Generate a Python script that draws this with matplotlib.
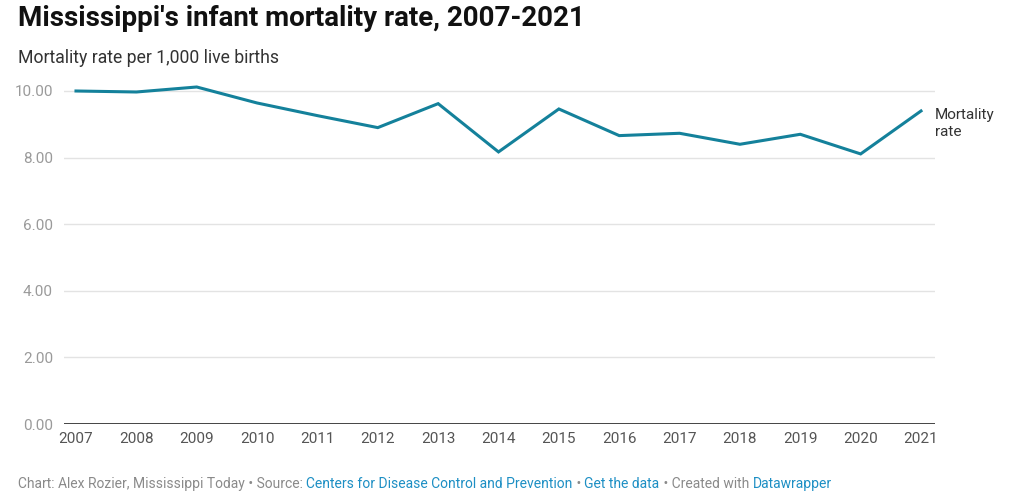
import matplotlib
matplotlib.use('Agg')
import matplotlib.pyplot as plt
import numpy as np

# ---------- data ----------
years = [2007, 2008, 2009, 2010, 2011, 2012, 2013, 2014,
         2015, 2016, 2017, 2018, 2019, 2020, 2021]
rate = [10.00, 9.97, 10.12, 9.64, 9.26, 8.90, 9.62, 8.17,
        9.46, 8.66, 8.73, 8.40, 8.70, 8.11, 9.40]
y_ticks = [0, 2, 4, 6, 8, 10]

title = "Mississippi's infant mortality rate, 2007-2021"
subtitle = "Mortality rate per 1,000 live births"
series_label = "Mortality\nrate"
footer = [("Chart: Alex Rozier, Mississippi Today \u2022 Source: ", "#8a8a8a"),
          ("Centers for Disease Control and Prevention", "#1d8fc4"),
          (" \u2022 ", "#8a8a8a"),
          ("Get the data", "#1d8fc4"),
          (" \u2022 Created with ", "#8a8a8a"),
          ("Datawrapper", "#1d8fc4")]

# ---------- style ----------
plt.rcParams['font.family'] = ['Roboto', 'DejaVu Sans']
line_col = '#14819b'
W, H = 1024, 500

fig = plt.figure(figsize=(W / 100, H / 100), dpi=100)
# axes box in pixels: left 64, right 935, bottom(0) 424, top 81
ax = fig.add_axes([64 / W, 1 - 424 / H, (935 - 64) / W, (424 - 81) / H])

step = (921 - 76) / 14
ax.set_xlim(2007 - 12 / step, 2021 + 14 / step)
ax.set_ylim(0, 10.3)

for t in y_ticks[1:]:
    ax.axhline(t, color='#e3e3e3', lw=1, zorder=1)
ax.axhline(0, color='#333333', lw=2, zorder=3)

ax.plot(years, rate, color=line_col, lw=2.2, zorder=4, solid_joinstyle='miter')

ax.set_yticks(y_ticks)
ax.set_yticklabels([f"{t:.2f}" for t in y_ticks])
ax.set_xticks(years)
ax.set_xticklabels([str(y) for y in years])
ax.tick_params(axis='y', length=0, pad=8, labelsize=11, labelcolor='#9a9a9a')
ax.tick_params(axis='x', length=0, pad=6, labelsize=11, labelcolor='#555555')
for s in ax.spines.values():
    s.set_visible(False)

ax.annotate(series_label, (years[-1], rate[-1]), xytext=(10, -9),
            textcoords='offset points', ha='left', va='center',
            fontsize=11, color='#333333', linespacing=1.25)

fig.text(18 / W, 1 - 18 / H, title, fontsize=20, fontweight='bold',
         color='#111111', va='center', ha='left')
fig.text(18 / W, 1 - 58 / H, subtitle, fontsize=12.7, color='#333333',
         va='center', ha='left')

# footer with mixed colours
fig.canvas.draw()
r = fig.canvas.get_renderer()
x = 18
for txt, col in footer:
    t = fig.text(x / W, 1 - 488 / H, txt, fontsize=10.0, color=col,
                 va='baseline', ha='left')
    x += t.get_window_extent(renderer=r).width

fig.savefig('out.png', dpi=100)
